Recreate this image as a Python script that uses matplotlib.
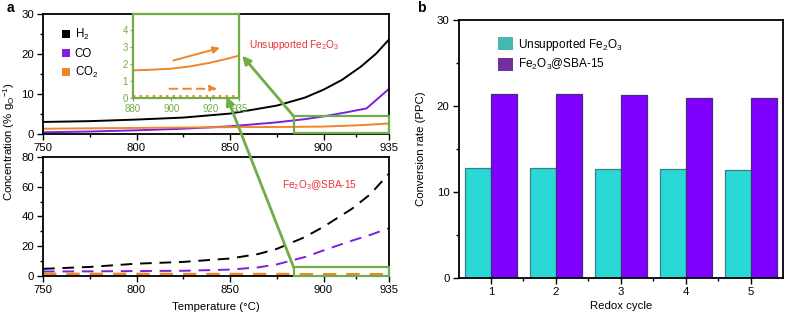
import matplotlib
matplotlib.use("Agg")
import matplotlib.pyplot as plt
from matplotlib.patches import Patch, Rectangle, ConnectionPatch
import numpy as np

plt.rcParams['font.family'] = ['Liberation Sans', 'DejaVu Sans']
plt.rcParams['mathtext.default'] = 'regular'

# ---------------- data ----------------
# Panel a, top: unsupported Fe2O3 (solid)
temp_top = [750, 775, 800, 825, 850, 875, 890, 900, 910, 920, 928, 935]
h2_top = [2.9, 3.1, 3.5, 4.0, 5.0, 7.0, 9.0, 11.0, 13.5, 16.8, 20.0, 23.6]
co_temp = [750, 775, 800, 825, 850, 875, 890, 900, 912, 923, 935]
co_top = [0.3, 0.5, 0.8, 1.2, 1.8, 2.8, 3.6, 4.3, 5.3, 6.3, 11.2]
co2_temp = [750, 800, 850, 880, 900, 920, 935]
co2_top = [1.2, 1.4, 1.6, 1.65, 1.74, 2.09, 2.51]

# Panel a, bottom: Fe2O3@SBA-15 (dashed)
temp_bot = [750, 775, 800, 825, 850, 865, 875, 890, 900, 915, 925, 935]
h2_bot = [4.5, 5.8, 8.0, 9.2, 11.5, 14.5, 18.0, 26.0, 33.0, 45.0, 55.0, 69.0]
co_bot = [2.7, 2.8, 3.0, 3.2, 4.0, 5.5, 7.5, 12.5, 17.0, 23.5, 27.5, 32.0]
co2_bot = [0.8, 0.8, 0.8, 0.7, 0.7, 0.7, 0.7, 0.6, 0.6, 0.6, 0.6, 0.6]

# Inset (zoom of 880-935 °C, CO2)
inset_temp = [880, 890, 900, 910, 920, 928, 935]
inset_co2_unsup = [1.64, 1.68, 1.74, 1.88, 2.09, 2.30, 2.51]
inset_co2_sba = [0.15, 0.15, 0.15, 0.15, 0.15, 0.15, 0.15]

# Panel b
cycles = [1, 2, 3, 4, 5]
unsupported = [12.7, 12.7, 12.65, 12.65, 12.5]
sba15 = [21.4, 21.3, 21.2, 20.9, 20.9]

# ---------------- styles ----------------
BLACK = '#000000'
PURPLE = '#7b1fe0'
ORANGE = '#f0862a'
GREEN = '#70ad47'
RED = '#e8343a'
CYAN = '#2ad8d6'
VIOLET = '#7f00ff'

W, H = 786, 317
fig = plt.figure(figsize=(W / 100, H / 100), dpi=100)

def fx(px):
    return px / W

def fy(py):
    return 1 - py / H

def style_axis(ax):
    for s in ax.spines.values():
        s.set_linewidth(1.3)
    ax.tick_params(which='both', direction='out', labelsize=8.2, width=1.0, top=False, right=False, pad=2.5)
    ax.tick_params(which='major', length=4)
    ax.tick_params(which='minor', length=2.5)

# --- top a ---
ax_t = fig.add_axes([fx(43), fy(133.5), fx(389 - 43), (133.5 - 14) / H])
ax_t.plot(temp_top, h2_top, color=BLACK, lw=1.4)
ax_t.plot(co_temp, co_top, color=PURPLE, lw=1.4)
ax_t.plot(co2_temp, co2_top, color=ORANGE, lw=1.4)
ax_t.set_xlim(750, 935)
ax_t.set_ylim(0, 30)
ax_t.set_xticks([750, 800, 850, 900, 935])
ax_t.set_xticks([775, 825, 875, 917.5], minor=True)
ax_t.set_yticks([0, 10, 20, 30])
ax_t.set_yticks([5, 15, 25], minor=True)
style_axis(ax_t)
ax_t.add_patch(Rectangle((884, 0.25), 51, 4.1, fill=False, edgecolor=GREEN, lw=1.6, zorder=5, clip_on=False))
ax_t.text(860, 22.3, 'Unsupported Fe$_2$O$_3$', color=RED, fontsize=7.3, va='center', ha='left')
ax_t.legend(handles=[Patch(facecolor=BLACK, label='H$_2$'),
                     Patch(facecolor=PURPLE, label='CO'),
                     Patch(facecolor=ORANGE, label='CO$_2$')],
            loc='upper left', bbox_to_anchor=(0.025, 0.98), frameon=False, fontsize=8.3,
            handlelength=0.7, handleheight=0.7, handletextpad=0.4, labelspacing=0.5)

# --- bottom a ---
ax_b = fig.add_axes([fx(43), fy(275.5), fx(389 - 43), (275.5 - 157.3) / H])
ax_b.plot(temp_bot, h2_bot, color=BLACK, lw=1.4, dashes=(6, 4))
ax_b.plot(temp_bot, co_bot, color=PURPLE, lw=1.4, dashes=(6, 4))
ax_b.plot(temp_bot, co2_bot, color=ORANGE, lw=2.4, dashes=(4, 3))
ax_b.set_xlim(750, 935)
ax_b.set_ylim(0, 80)
ax_b.set_xticks([750, 800, 850, 900, 935])
ax_b.set_xticks([775, 825, 875, 917.5], minor=True)
ax_b.set_yticks([0, 20, 40, 60, 80])
ax_b.set_yticks([10, 30, 50, 70], minor=True)
style_axis(ax_b)
ax_b.add_patch(Rectangle((884, -0.6), 51, 6.2, fill=False, edgecolor=GREEN, lw=1.6, zorder=5, clip_on=False))
ax_b.text(878, 61, 'Fe$_2$O$_3$@SBA-15', color=RED, fontsize=7.3, va='center', ha='left')
ax_b.set_xlabel('Temperature (°C)', fontsize=8.2, labelpad=5.5)

fig.text(0.011, 0.552, 'Concentration (% g$_O$$^{-1}$)', rotation=90, fontsize=8.2, ha='center', va='center')

# --- inset ---
ax_i = fig.add_axes([fx(132.7), fy(98.3), fx(239.3 - 132.7), (98.3 - 14) / H])
ax_i.set_facecolor('white')
ax_i.plot(inset_temp, inset_co2_unsup, color=ORANGE, lw=1.4)
ax_i.plot(inset_temp, inset_co2_sba, color=ORANGE, lw=1.4, dashes=(1.2, 2.2))
ax_i.set_xlim(880, 935)
ax_i.set_ylim(0, 4.95)
ax_i.set_xticks([880, 900, 920, 935])
ax_i.set_yticks([0, 1, 2, 3, 4])
for s in ax_i.spines.values():
    s.set_color(GREEN)
    s.set_linewidth(1.6)
ax_i.tick_params(axis='x', direction='out', length=2, width=0.8, colors=GREEN, labelsize=7, pad=2)
ax_i.tick_params(axis='y', direction='out', length=2, width=0.8, colors=GREEN, labelsize=7, pad=1.5)
ax_i.annotate('', xy=(925, 2.96), xytext=(901, 2.22),
              arrowprops=dict(arrowstyle='-|>', color=ORANGE, lw=1.4, mutation_scale=10, shrinkA=0, shrinkB=0))
ax_i.annotate('', xy=(923.5, 0.56), xytext=(899, 0.56),
              arrowprops=dict(arrowstyle='-|>', color=ORANGE, lw=1.4, linestyle=(0, (4, 3)),
                              mutation_scale=10, shrinkA=0, shrinkB=0))

# green connecting arrows
c1 = ConnectionPatch(xyA=(884, 4.35), coordsA=ax_t.transData, xyB=(936.5, 2.5), coordsB=ax_i.transData,
                     arrowstyle='-|>', color=GREEN, lw=2.0, mutation_scale=12, shrinkA=0, shrinkB=0, zorder=10)
fig.add_artist(c1)
c2 = ConnectionPatch(xyA=(884, 5.6), coordsA=ax_b.transData, xyB=(928.5, 0.1), coordsB=ax_i.transData,
                     arrowstyle='-|>', color=GREEN, lw=2.0, mutation_scale=12, shrinkA=0, shrinkB=0, zorder=10)
fig.add_artist(c2)

# --- panel b ---
ax2 = fig.add_axes([fx(458.5), fy(277.7), fx(783 - 458.5), (277.7 - 19.5) / H])
x = np.array(cycles)
ax2.bar(x - 0.2, unsupported, width=0.4, color=CYAN, edgecolor='#3a7f86', lw=0.9)
ax2.bar(x + 0.2, sba15, width=0.4, color=VIOLET, edgecolor='#4a2a80', lw=0.9)
ax2.set_xlim(0.5, 5.5)
ax2.set_ylim(0, 30)
ax2.set_xticks(cycles)
ax2.set_xticks([1.5, 2.5, 3.5, 4.5], minor=True)
ax2.set_yticks([0, 10, 20, 30])
ax2.set_yticks([5, 15, 25], minor=True)
style_axis(ax2)
ax2.set_xlabel('Redox cycle', fontsize=8.2, labelpad=3)
ax2.set_ylabel('Conversion rate (PPC)', fontsize=8.2, labelpad=8)
ax2.legend(handles=[Patch(facecolor='#45b8b0', label='Unsupported Fe$_2$O$_3$'),
                    Patch(facecolor='#7030a0', label='Fe$_2$O$_3$@SBA-15')],
           loc='upper left', bbox_to_anchor=(0.09, 0.975), frameon=False, fontsize=8.5,
           handlelength=1.25, handleheight=1.25, handletextpad=0.45, labelspacing=0.4)

fig.text(fx(7), fy(8), 'a', fontsize=10, fontweight='bold', ha='left', va='center')
fig.text(fx(421), fy(8), 'b', fontsize=10, fontweight='bold', ha='center', va='center')

fig.savefig('out.png', dpi=100)
